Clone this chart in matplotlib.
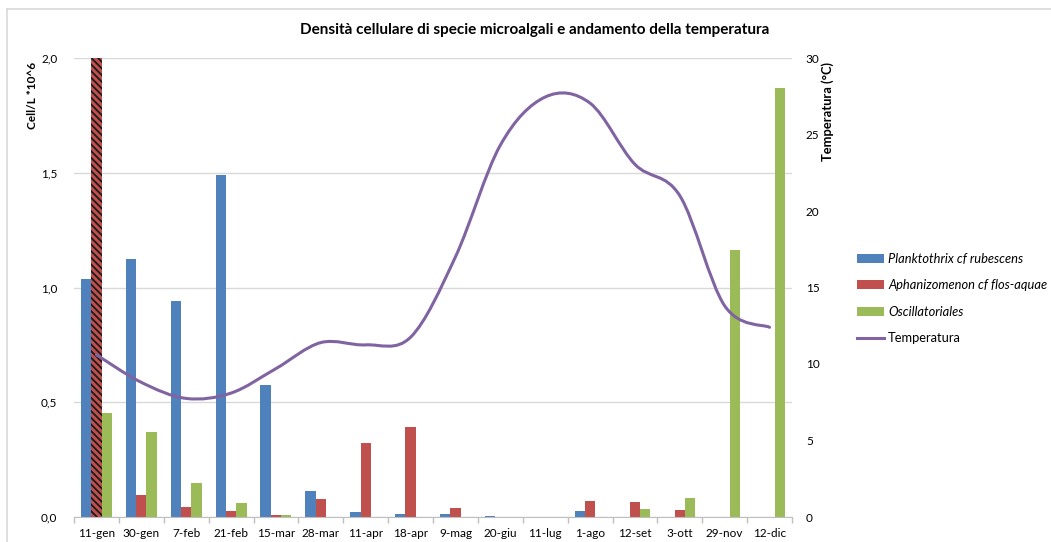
import numpy as np
import matplotlib
matplotlib.use("Agg")
import matplotlib.pyplot as plt
from matplotlib.path import Path
from matplotlib.patches import PathPatch
from matplotlib.lines import Line2D
from matplotlib.ticker import FuncFormatter, MultipleLocator, FixedLocator

plt.rcParams['font.family'] = ['Lato', 'DejaVu Sans']
plt.rcParams['hatch.linewidth'] = 1.3

categories = ['11-gen', '30-gen', '7-feb', '21-feb', '15-mar', '28-mar', '11-apr', '18-apr',
              '9-mag', '20-giu', '11-lug', '1-ago', '12-set', '3-ott', '29-nov', '12-dic']
planktothrix = [1.035, 1.123, 0.94, 1.49, 0.575, 0.113, 0.02, 0.015,
                0.015, 0.003, 0.002, 0.024, 0.002, 0.002, 0.002, 0.002]
aphanizomenon = [2.0, 0.094, 0.042, 0.024, 0.01, 0.077, 0.324, 0.393,
                 0.039, 0.0, 0.002, 0.071, 0.067, 0.029, 0.002, 0.0]
oscillatoriales = [0.453, 0.37, 0.146, 0.061, 0.008, 0.0, 0.0, 0.0,
                   0.0, 0.0, 0.0, 0.0, 0.033, 0.081, 1.165, 1.869]
temperature = [10.6, 8.8, 7.75, 8.1, 9.7, 11.4, 11.25, 11.75,
               17.0, 24.3, 27.45, 27.05, 23.05, 21.0, 13.8, 12.4]

series_labels = ['Planktothrix cf rubescens', 'Aphanizomenon cf flos-aquae', 'Oscillatoriales', 'Temperatura']
colors = ['#4F81BD', '#C0504D', '#9BBB59', '#8064A2']

W, H = 1051, 542
fig = plt.figure(figsize=(W / 100, H / 100), dpi=100)
ax = fig.add_axes([74 / W, 1 - 517 / H, (792 - 74) / W, (517 - 58) / H])

x = np.arange(len(categories))
bw = 0.23
b1 = ax.bar(x - bw, planktothrix, bw, color=colors[0], linewidth=0, zorder=2)
b2 = ax.bar(x, aphanizomenon, bw, color=colors[1], linewidth=0, zorder=2)
b3 = ax.bar(x + bw, oscillatoriales, bw, color=colors[2], linewidth=0, zorder=2)
# first Aphanizomenon bar exceeds the scale: hatched
b2.patches[0].set_hatch('\\' * 5)
b2.patches[0].set_edgecolor('#1a1a1a')

ax.set_xlim(-0.5, len(categories) - 0.5)
ax.set_ylim(0, 2.0)
ax.yaxis.set_major_locator(MultipleLocator(0.5))
ax.yaxis.set_major_formatter(FuncFormatter(lambda v, p: f"{v:.1f}".replace('.', ',')))
ax.grid(axis='y', color='#D9D9D9', linewidth=1.0, zorder=0)
ax.set_axisbelow(True)
for s in ['top', 'right', 'left']:
    ax.spines[s].set_visible(False)
ax.spines['bottom'].set_color('#BFBFBF')
ax.set_xticks(x)
ax.set_xticklabels(categories)
ax.xaxis.set_minor_locator(FixedLocator(np.arange(-0.5, len(categories), 1.0)))
ax.tick_params(axis='x', which='major', length=0, pad=8, labelsize=8.5, colors='#000000')
ax.tick_params(axis='x', which='minor', length=4, color='#BFBFBF', width=1)
ax.tick_params(axis='y', length=0, pad=12, labelsize=8.5)

ax2 = ax.twinx()
ax2.set_ylim(0, 30)
ax2.yaxis.set_major_locator(MultipleLocator(5))
for s in ['top', 'right', 'left', 'bottom']:
    ax2.spines[s].set_visible(False)
ax2.tick_params(axis='y', length=0, pad=10, labelsize=8.5)

# smoothed line (Excel-style Bezier smoothing through the data points)
px = x.astype(float)
py = np.array(temperature, dtype=float)
n = len(px)
verts = [(px[0], py[0])]
codes = [Path.MOVETO]
for i in range(n - 1):
    p0 = (px[i - 1], py[i - 1]) if i > 0 else (px[i], py[i])
    p1 = (px[i], py[i])
    p2 = (px[i + 1], py[i + 1])
    p3 = (px[i + 2], py[i + 2]) if i + 2 < n else (px[i + 1], py[i + 1])
    c1 = (p1[0] + (p2[0] - p0[0]) / 6, p1[1] + (p2[1] - p0[1]) / 6)
    c2 = (p2[0] - (p3[0] - p1[0]) / 6, p2[1] - (p3[1] - p1[1]) / 6)
    verts += [c1, c2, p2]
    codes += [Path.CURVE4] * 3
ax2.add_patch(PathPatch(Path(verts, codes), fill=False, edgecolor=colors[3],
                        linewidth=2.2, capstyle='round', zorder=3))

fig.text(535 / W, 1 - 30 / H, 'Densità cellulare di specie microalgali e andamento della temperatura',
         ha='center', va='center', fontsize=11, fontweight='bold')
fig.text(32 / W, 1 - 62 / H, 'Cell/L *10^6', rotation=90, ha='center', va='top',
         fontsize=8.5, fontweight='bold')
fig.text(828 / W, 1 - 62 / H, 'Temperatura (°C)', rotation=90, ha='center', va='top',
         fontsize=9.3, fontweight='bold')

handles = [b1.patches[1], b2.patches[1], b3.patches[1],
           Line2D([], [], color=colors[3], linewidth=2.2)]
leg = fig.legend(handles, series_labels, loc='upper left',
                 bbox_to_anchor=(857 / W, 1 - 253 / H), frameon=False,
                 fontsize=9.3, handlelength=2.1, handleheight=0.7, handletextpad=0.3,
                 labelspacing=1.12, borderpad=0, borderaxespad=0)
for t in leg.get_texts()[:3]:
    t.set_fontstyle('italic')

# chart border
fig.add_artist(Line2D([7 / W, 7 / W], [0, 1 - 9 / H], color='#D9D9D9', linewidth=1.2))
fig.add_artist(Line2D([7 / W, 1], [1 - 9 / H, 1 - 9 / H], color='#D9D9D9', linewidth=1.2))

fig.savefig('out.png', dpi=100)
